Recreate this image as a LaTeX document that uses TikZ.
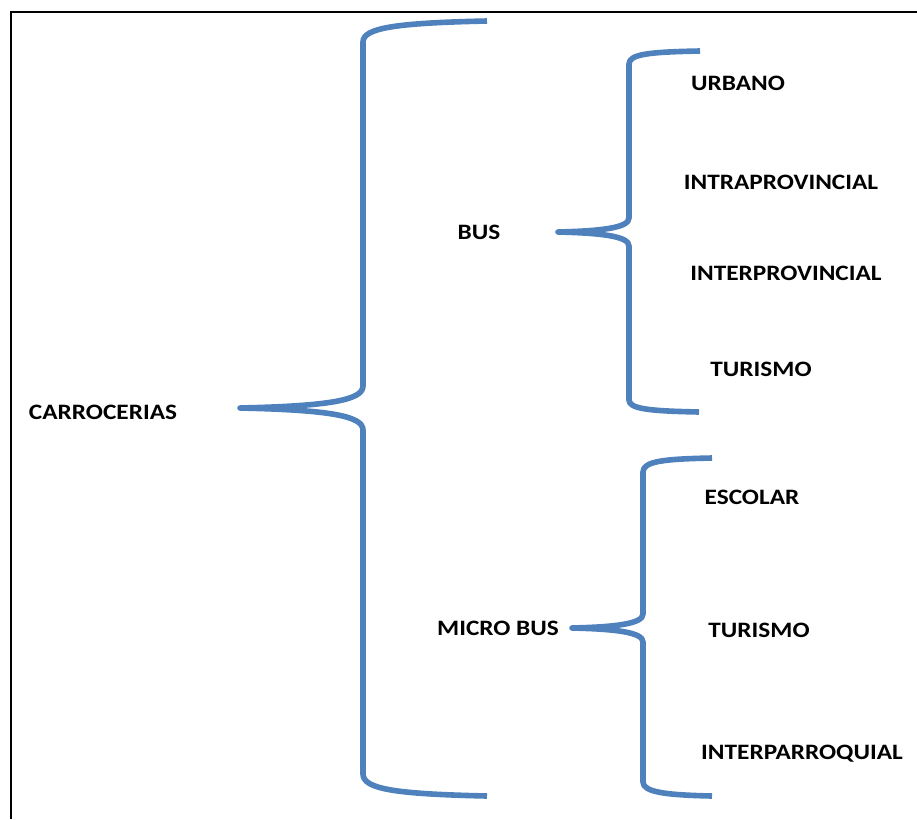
\documentclass[tikz,border=0pt]{standalone}
\usepackage{fontspec}
\newfontfamily\lblfont{Carlito}[FakeStretch=1.15]
\definecolor{bracecol}{HTML}{4F81BD}
\begin{document}
\begin{tikzpicture}[x=1pt,y=-1pt,
  lbl/.style={font=\lblfont\bfseries\fontsize{22}{22}\selectfont, inner sep=0pt, text height=14.2pt, text depth=0pt, anchor=center},
  brace/.style={draw=bracecol, line width=5.6pt, line join=round}]
\useasboundingbox (0,0) rectangle (917,819);
\draw[line width=2.3pt] (11,819) -- (11,12) -- (917,12);
% labels
\node[lbl] (carr) at (103,412) {CARROCERIAS};
\node[lbl] (bus) at (479,232) {BUS};
\node[lbl] (micro) at (498,628) {MICRO BUS};
\node[lbl] (urb) at (738,83) {URBANO};
\node[lbl] (intra) at (781,182) {INTRAPROVINCIAL};
\node[lbl] (inter) at (786,273) {INTERPROVINCIAL};
\node[lbl] (tur1) at (761,369) {TURISMO};
\node[lbl] (esc) at (752,497) {ESCOLAR};
\node[lbl] (tur2) at (759,630) {TURISMO};
\node[lbl] (parr) at (802,752) {INTERPARROQUIAL};
% brace tips and ends
\coordinate (rootTip) at (240,408);
\coordinate (bigTop) at (487,21);
\coordinate (bigBot) at (487,796);
\coordinate (busTip) at (558,232);
\coordinate (busTop) at (700,51);
\coordinate (busBot) at (699,412);
\coordinate (microTip) at (572,628);
\coordinate (microTop) at (712,458);
\coordinate (microBot) at (712,796);
% big brace
\draw[brace] (bigTop) .. controls (395,23) and (363,28) .. (363,42)
  -- (363,386) .. controls (363,400) and (330,406) .. (rootTip)
  .. controls (330,410) and (363,416) .. (363,430)
  -- (363,774) .. controls (363,789) and (395,794) .. (bigBot);
% bus brace
\draw[brace] (busTop) .. controls (650,52) and (629,54) .. (629,64)
  -- (629,218) .. controls (629,228) and (600,231) .. (busTip)
  .. controls (600,233) and (629,236) .. (629,246)
  -- (629,400) .. controls (629,409) and (650,411) .. (busBot);
% micro bus brace
\draw[brace] (microTop) .. controls (665,459) and (643,461) .. (643,472)
  -- (643,614) .. controls (643,624) and (614,627) .. (microTip)
  .. controls (614,629) and (643,632) .. (643,642)
  -- (643,782) .. controls (643,792) and (665,795) .. (microBot);
\end{tikzpicture}
\end{document}
